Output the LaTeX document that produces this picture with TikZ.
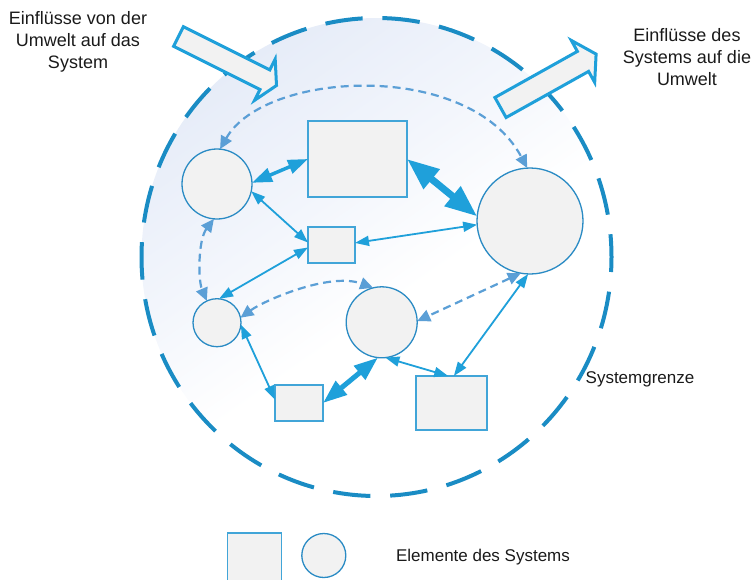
\documentclass[tikz,border=0pt]{standalone}
\usepackage{fontspec}
\setmainfont{Liberation Sans}
\usetikzlibrary{arrows.meta}
\definecolor{nodefill}{HTML}{F2F2F2}
\definecolor{rectblue}{HTML}{41A5D8}
\definecolor{circblue}{HTML}{2A8BC4}
\definecolor{conblue}{HTML}{1FA0DA}
\definecolor{dashblue}{HTML}{5B9FD6}
\definecolor{bordblue}{HTML}{1A8CC4}
\definecolor{bgblue}{HTML}{E6ECF8}
\definecolor{bgmid}{HTML}{F3F6FC}
\definecolor{txt}{HTML}{1A1A1A}
\pgfdeclareverticalshading{sysbg}{100bp}{color(0bp)=(white); color(45bp)=(white); color(58bp)=(bgmid); color(75bp)=(bgblue); color(100bp)=(bgblue)}
\begin{document}
\begin{tikzpicture}[x=1pt,y=-1pt,
  rectel/.style={rectangle, fill=nodefill, draw=rectblue, line width=1.5pt, inner sep=0pt, outer sep=0pt},
  circel/.style={circle, fill=nodefill, draw=circblue, line width=1.3pt, inner sep=0pt, outer sep=0pt},
  thincon/.style={draw=conblue, line width=1.8pt, {Triangle[length=14pt,width=10pt]}-{Triangle[length=14pt,width=10pt]}},
  midcon/.style={draw=conblue, line width=3.5pt, {Triangle[length=20pt,width=14pt]}-{Triangle[length=20pt,width=14pt]}},
  fatcon/.style={draw=conblue, line width=7pt, {Triangle[length=32pt,width=24pt]}-{Triangle[length=32pt,width=24pt]}},
  semicon/.style={draw=conblue, line width=5pt, {Triangle[length=24pt,width=17pt]}-{Triangle[length=24pt,width=17pt]}},
  dashcon/.style={draw=dashblue, line width=2.2pt, dash pattern=on 8pt off 5pt, {Triangle[length=13pt,width=12pt]}-{Triangle[length=13pt,width=12pt]}},
  blockarrow/.style={fill=nodefill, draw=conblue, line width=3pt, line join=miter},
  lbl/.style={align=center, font=\fontsize{18}{22}\selectfont, text=txt, inner sep=0pt},
  lbltwo/.style={font=\fontsize{17}{20}\selectfont, text=txt, inner sep=0pt}
]
\useasboundingbox (0,0) rectangle (753,579);
% system area
\shade[shading=sysbg, shading angle=35]
  (376.5,257) ellipse [x radius=235, y radius=239];
\draw[bordblue, line width=4pt, dash pattern=on 37.5pt off 19.77pt, dash phase=22.5pt]
  (376.5,257) ellipse [x radius=235, y radius=239];

% block arrows
\draw[blockarrow] (183.4,26.7) -- (269.8,69.9) -- (275.2,59.1) -- (276.5,85.5) -- (254.6,100.3) -- (260,89.5) -- (173.6,46.3) -- cycle;
\draw[blockarrow] (494.9,97.5) -- (577.4,51.4) -- (571.3,40.4) -- (596.1,54.1) -- (594.7,82.4) -- (588.6,71.4) -- (506.1,117.5) -- cycle;

% elements
\node[circel, minimum size=70pt] (A) at (217,184) {};
\node[rectel, minimum width=99pt, minimum height=76pt] (B) at (357.5,159) {};
\node[circel, minimum size=106pt] (C) at (530,221) {};
\node[rectel, minimum width=47pt, minimum height=36pt] (D) at (331.5,245) {};
\node[circel, minimum size=48pt] (E) at (217,322.7) {};
\node[circel, minimum size=71pt] (F) at (381.7,322.3) {};
\node[rectel, minimum width=48pt, minimum height=36pt] (G) at (299,403) {};
\node[rectel, minimum width=71pt, minimum height=54pt] (H) at (451.5,403) {};

% legend
\node[rectel, minimum width=54pt, minimum height=54pt] (LR) at (254.7,560) {};
\node[circel, minimum size=44pt] (LC) at (323.8,555.5) {};

% connectors
\draw[midcon] (A.2) -- (B.west);
\draw[fatcon] (B.east) -- (C.175);
\draw[thincon] (A.-12) -- (D.174);
\draw[thincon] (C.184) -- (D.5);
\draw[thincon] (D.186) -- (E.85);
\draw[thincon] (C.-92) -- (H.85);
\draw[thincon] (F.-84) -- (H.97);
\draw[semicon] (F.-96) -- (G.east);
\draw[thincon] (E.-5) -- (G.172);
\draw[dashcon] (A.-95) .. controls (198,240) and (198,280) .. (E.115);
\draw[dashcon] (A.85) .. controls (265,70) and (470,60) .. (C.93);
\draw[dashcon] (E.12) .. controls (265,300) and (330,272) .. (F.104);
\draw[dashcon] (C.-100) -- (F.2);

% labels
\node[lbl] (L1) at (78,42) {Einflüsse von der\\Umwelt auf das\\System};
\node[lbl] (L2) at (687,57.5) {Einflüsse des\\Systems auf die\\Umwelt};
\node[lbltwo] (L3) at (640,379) {Systemgrenze};
\node[lbltwo] (L4) at (483,557) {Elemente des Systems};
\end{tikzpicture}
\end{document}
